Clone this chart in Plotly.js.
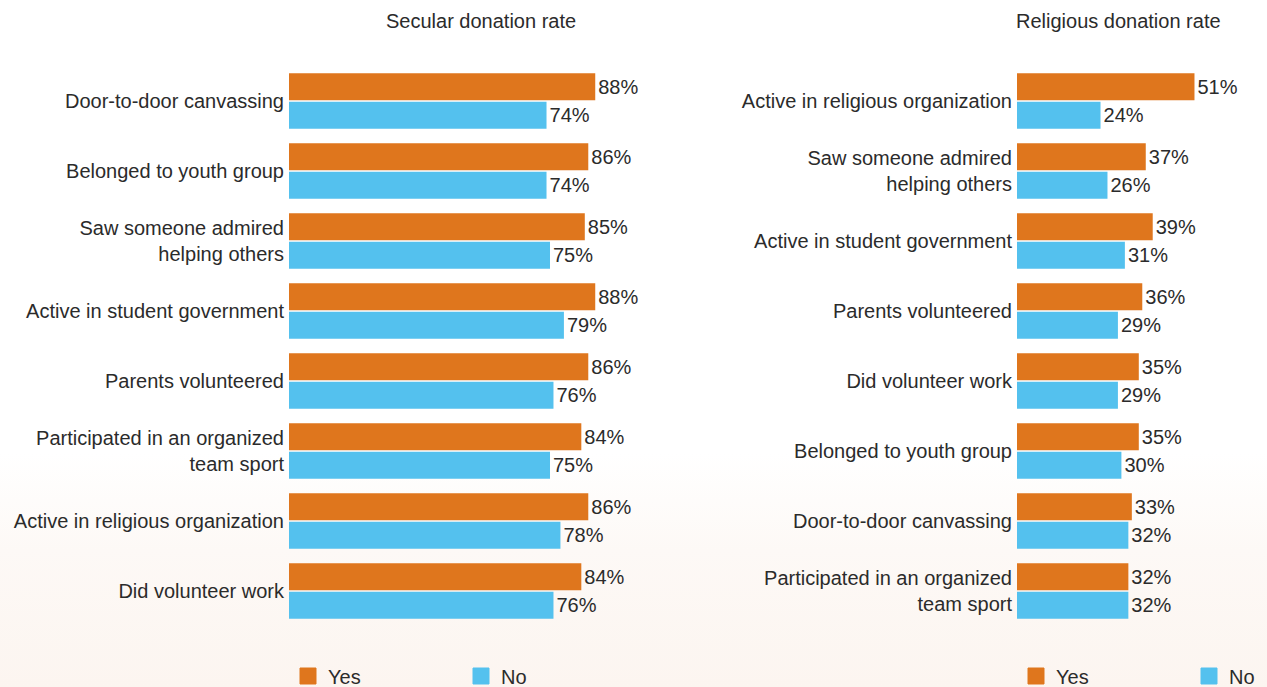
<!DOCTYPE html>
<html>
<head>
<meta charset="utf-8">
<script src="https://cdn.plot.ly/plotly-3.0.1.min.js"></script>
<style>
  html, body { margin: 0; padding: 0; }
  body {
    width: 1267px; height: 687px; overflow: hidden;
    background: linear-gradient(to bottom, #ffffff 0%, #ffffff 66%, #fdf9f6 80%, #fcf5f0 100%);
  }
  #chart { width: 1267px; height: 687px; }
</style>
</head>
<body>
<div id="chart"></div>
<script>
// ---- Data ----
const secularCategories = [
  "Door-to-door canvassing",
  "Belonged to youth group",
  "Saw someone admired<br>helping others",
  "Active in student government",
  "Parents volunteered",
  "Participated in an organized<br>team sport",
  "Active in religious organization",
  "Did volunteer work"
];
const secularYes = [88, 86, 85, 88, 86, 84, 86, 84];
const secularNo  = [74, 74, 75, 79, 76, 75, 78, 76];

const religiousCategories = [
  "Active in religious organization",
  "Saw someone admired<br>helping others",
  "Active in student government",
  "Parents volunteered",
  "Did volunteer work",
  "Belonged to youth group",
  "Door-to-door canvassing",
  "Participated in an organized<br>team sport"
];
const religiousYes = [51, 37, 39, 36, 35, 35, 33, 32];
const religiousNo  = [24, 26, 31, 29, 29, 30, 32, 32];

const seriesNames = ["Yes", "No"];
const panelTitles = ["Secular donation rate", "Religious donation rate"];

// ---- Styles ----
const W = 1267, H = 687;
const COLORS = { Yes: "#DF761D", No: "#54C1EE" };
const TEXT = "#2b2b2b";
const FONT = "Liberation Sans, Arial, sans-serif";
const pct = v => v + "%";

function barTrace(name, cats, vals, xa, ya) {
  return {
    type: "bar", orientation: "h", name: name,
    x: vals, y: cats, xaxis: xa, yaxis: ya,
    marker: { color: COLORS[name], line: { width: 0 } },
    text: vals.map(pct), textposition: "outside",
    textfont: { size: 20, color: TEXT, family: FONT },
    cliponaxis: false, showlegend: false, hoverinfo: "x+y"
  };
}
function legendTrace(name, xa, ya, leg) {
  return {
    type: "scatter", mode: "markers", name: name,
    x: [null], y: [null], xaxis: xa, yaxis: ya, legend: leg,
    marker: { symbol: "square", size: 16, color: COLORS[name], line: { width: 1, color: COLORS[name] } },
    showlegend: true
  };
}

const data = [
  barTrace(seriesNames[0], secularCategories, secularYes, "x", "y"),
  barTrace(seriesNames[1], secularCategories, secularNo, "x", "y"),
  barTrace(seriesNames[0], religiousCategories, religiousYes, "x2", "y2"),
  barTrace(seriesNames[1], religiousCategories, religiousNo, "x2", "y2"),
  legendTrace(seriesNames[0], "x", "y", "legend"),
  legendTrace(seriesNames[1], "x", "y", "legend"),
  legendTrace(seriesNames[0], "x2", "y2", "legend2"),
  legendTrace(seriesNames[1], "x2", "y2", "legend2")
];

const L1 = 289, R1 = 673, L2 = 1017, R2 = 1219;
const PX_PER_PCT = 3.48;
const plotTop = 66, plotBottom = 626, plotH = plotBottom - plotTop;

const xCommon = {
  showgrid: false, zeroline: false, showline: false, showticklabels: false, ticks: "", fixedrange: true
};
const yCommon = {
  type: "category", autorange: "reversed", showgrid: false, zeroline: false, showline: false,
  ticks: "", ticklabelstandoff: 4, automargin: false,
  tickfont: { size: 20, color: TEXT, family: FONT }, fixedrange: true
};
const legendCommon = {
  orientation: "h", font: { size: 20, color: TEXT, family: FONT },
  bgcolor: "rgba(0,0,0,0)", yanchor: "middle", xanchor: "left",
  y: -(676 - plotBottom) / plotH, entrywidth: 128, entrywidthmode: "pixels",
  itemclick: false, itemdoubleclick: false
};

const layout = {
  width: W, height: H,
  margin: { l: 0, r: 0, t: plotTop, b: H - plotBottom, pad: 0, autoexpand: false },
  paper_bgcolor: "rgba(0,0,0,0)", plot_bgcolor: "rgba(0,0,0,0)",
  font: { family: FONT, size: 20, color: TEXT },
  barmode: "group", bargap: 0.19, bargroupgap: 0.05,
  xaxis: Object.assign({}, xCommon, { domain: [L1 / W, R1 / W], range: [0, (R1 - L1) / PX_PER_PCT] }),
  yaxis: Object.assign({}, yCommon, { anchor: "x" }),
  xaxis2: Object.assign({}, xCommon, { domain: [L2 / W, R2 / W], range: [0, (R2 - L2) / PX_PER_PCT] }),
  yaxis2: Object.assign({}, yCommon, { anchor: "x2" }),
  legend: Object.assign({}, legendCommon, { x: (L1 - 1) / W }),
  legend2: Object.assign({}, legendCommon, { x: (L2 - 1) / W }),
  annotations: [
    { text: panelTitles[0], xref: "paper", yref: "paper", x: 481 / W, y: 1 + (plotTop - 21) / plotH,
      xanchor: "center", yanchor: "middle", showarrow: false, font: { size: 20, color: TEXT, family: FONT } },
    { text: panelTitles[1], xref: "paper", yref: "paper", x: 1118 / W, y: 1 + (plotTop - 21) / plotH,
      xanchor: "center", yanchor: "middle", showarrow: false, font: { size: 20, color: TEXT, family: FONT } }
  ]
};

Plotly.newPlot("chart", data, layout, { displayModeBar: false, staticPlot: true });
</script>
</body>
</html>
